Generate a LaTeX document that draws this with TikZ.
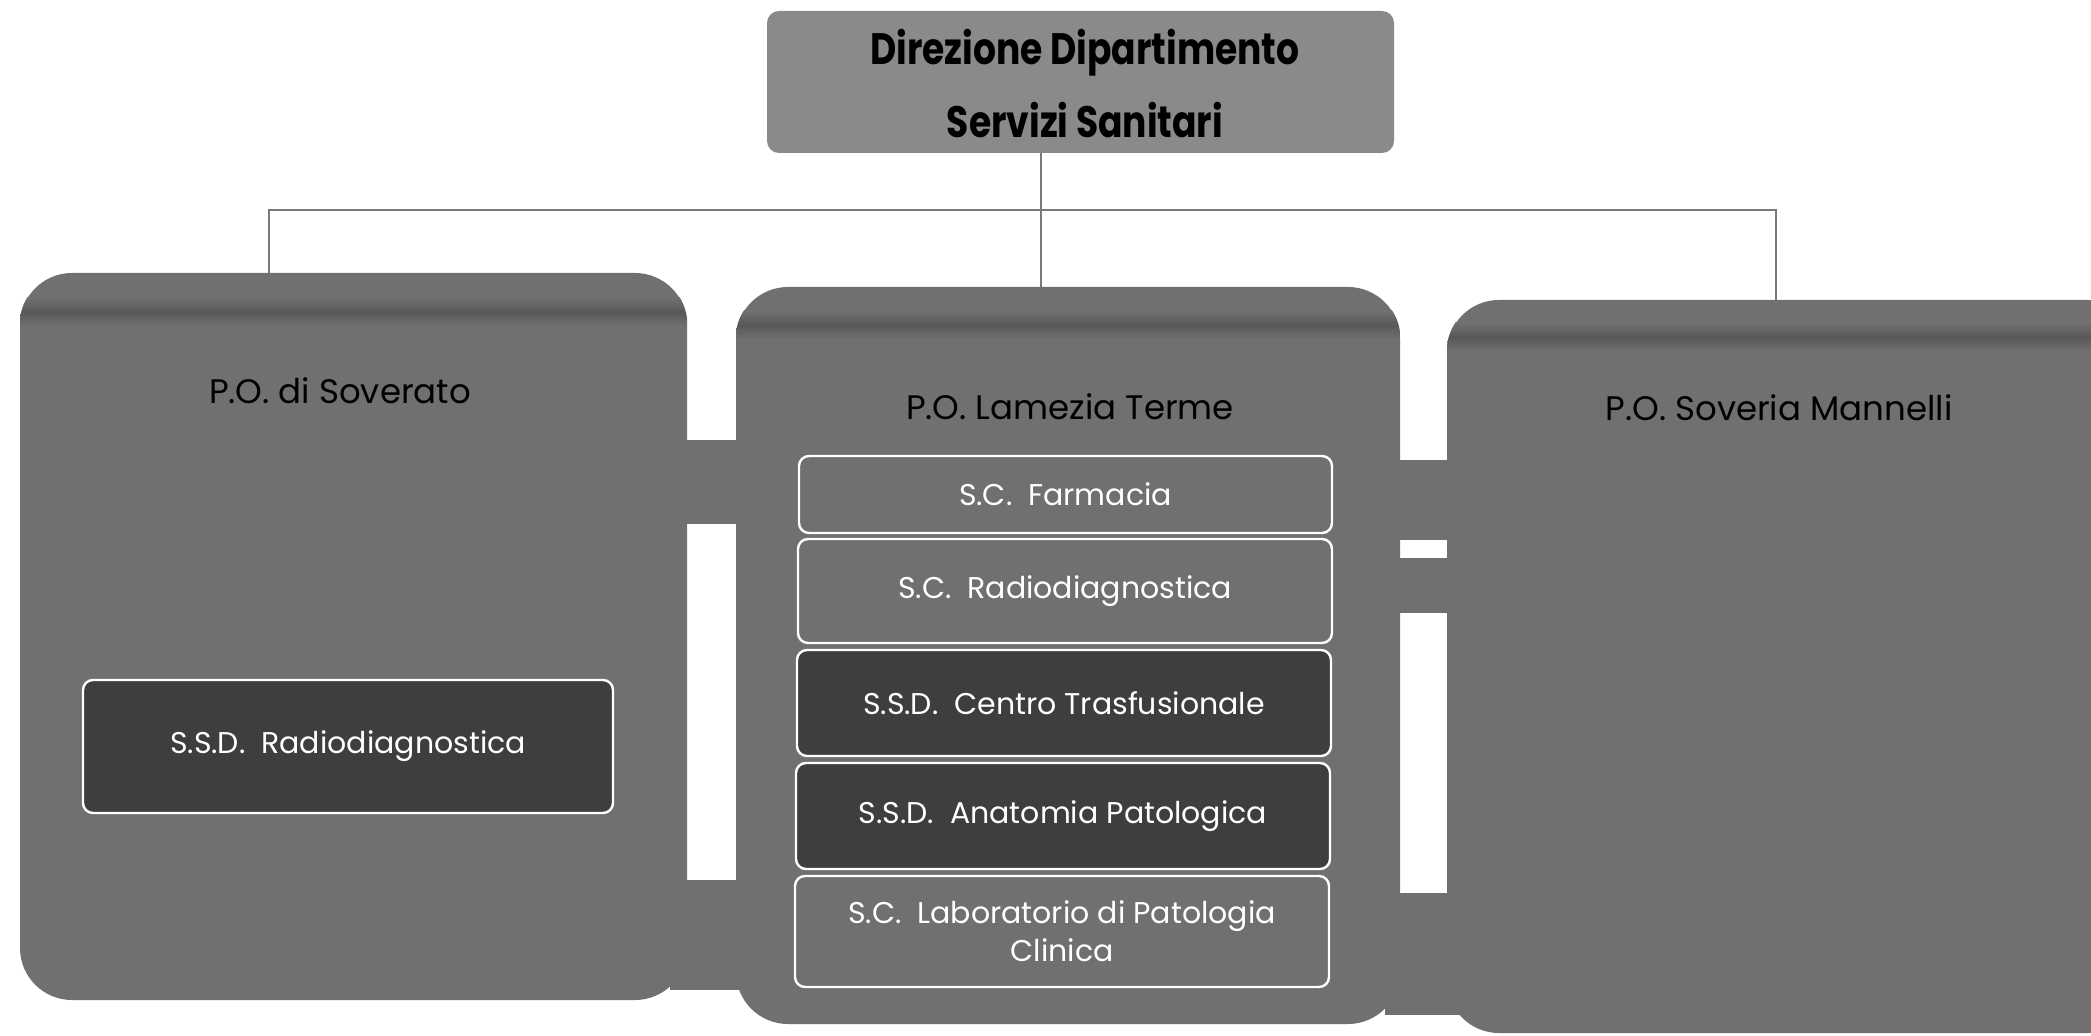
\documentclass[tikz,border=0pt]{standalone}
\usepackage{fontspec}
\setmainfont{Poppins}
\newfontfamily\topfont[FakeStretch=0.82]{Poppins}
\usetikzlibrary{fit}
\definecolor{panelgray}{HTML}{707070}
\definecolor{stripgray}{HTML}{585858}
\definecolor{topgray}{HTML}{8A8A8A}
\definecolor{darkbox}{HTML}{3E3E3E}
\definecolor{linegray}{HTML}{7A7A7A}
\begin{document}
\begin{tikzpicture}[x=0.5pt,y=-0.5pt,
  panel/.style={draw=none, fill=panelgray, rounded corners=26pt, inner sep=0pt},
  topbox/.style={draw=none, fill=topgray, rounded corners=6pt, inner sep=0pt},
  unit/.style={draw=white, line width=1.2pt, fill=panelgray, rounded corners=5pt, inner sep=0pt},
  unitdark/.style={unit, fill=darkbox},
  utext/.style={text=white, font=\fontsize{15}{19}\selectfont, align=center},
  ptitle/.style={text=black, font=\fontsize{17}{20}\selectfont},
  ttext/.style={text=black, font=\topfont\bfseries\fontsize{22}{26}\selectfont},
  conn/.style={draw=linegray, line width=1.1pt},
  band/.style={fill=panelgray},
  topstrip/.style={top color=panelgray, bottom color=panelgray, middle color=stripgray}]
\useasboundingbox (0,0) rectangle (2091,1036);
\fill[white] (0,0) rectangle (2091,1036);
\begin{scope}
\clip (0,0) rectangle (2091,1036);
% bands behind panels
\fill[band] (670,440) rectangle (750,524);
\fill[band] (670,880) rectangle (750,990);
\fill[band] (1385,460) rectangle (1460,540);
\fill[band] (1385,558) rectangle (1460,613);
\fill[band] (1385,893) rectangle (1460,1015);
% panels
\node[panel, fit={(20,273) (687,1000)}] (L) {};
\node[panel, fit={(736,287) (1400,1024)}] (M) {};
\node[panel, fit={(1447,300) (2140,1033)}] (R) {};
% soft darker strip near the top of each panel, clipped to the panel
\begin{scope}
\clip[rounded corners=26pt] (L.south west) rectangle (L.north east);
\shade[topstrip] (20,298) rectangle (687,326);
\end{scope}
\begin{scope}
\clip[rounded corners=26pt] (M.south west) rectangle (M.north east);
\shade[topstrip] (736,311) rectangle (1400,339);
\end{scope}
\begin{scope}
\clip[rounded corners=26pt] (R.south west) rectangle (R.north east);
\shade[topstrip] (1447,323) rectangle (2140,351);
\end{scope}
\end{scope}
% top box
\node[topbox, fit={(767,11) (1394,153)}] (top) {};
\node[ttext] (t1) at (1085,53) {Direzione Dipartimento};
\node[ttext] (t2) at (1085,120) {Servizi Sanitari};
% panel titles
\node[ptitle] (Lt) at (340,391) {P.O. di Soverato};
\node[ptitle] (Mt) at (1070,407) {P.O. Lamezia Terme};
\node[ptitle] (Rt) at (1779,408) {P.O. Soveria Mannelli};
% units
\node[unitdark, fit={(83,680) (613,813)}] (l1) {};
\node[utext] (l1t) at (l1.center) {S.S.D.\ \ Radiodiagnostica};
\node[unit, fit={(799,456) (1332,533)}] (m1) {};
\node[utext] (m1t) at (m1.center) {S.C.\ \ Farmacia};
\node[unit, fit={(798,539) (1332,643)}] (m2) {};
\node[utext] (m2t) at (m2.center) {S.C.\ \ Radiodiagnostica};
\node[unitdark, fit={(797,650) (1331,756)}] (m3) {};
\node[utext] (m3t) at (m3.center) {S.S.D.\ \ Centro Trasfusionale};
\node[unitdark, fit={(796,763) (1330,869)}] (m4) {};
\node[utext] (m4t) at (m4.center) {S.S.D.\ \ Anatomia Patologica};
\node[unit, fit={(795,876) (1329,987)}] (m5) {};
\node[utext] (m5t) at (m5.center) {S.C.\ \ Laboratorio di Patologia\\Clinica};
% connectors
\coordinate (jx) at (1041,210);
\coordinate (hl) at (269,210);
\coordinate (hr) at (1776,210);
\draw[conn] (top.south -| jx) -- (M.north -| jx);
\draw[conn] (L.north -| hl) -- (hl) -- (hr) -- (R.north -| hr);
\end{tikzpicture}
\end{document}
